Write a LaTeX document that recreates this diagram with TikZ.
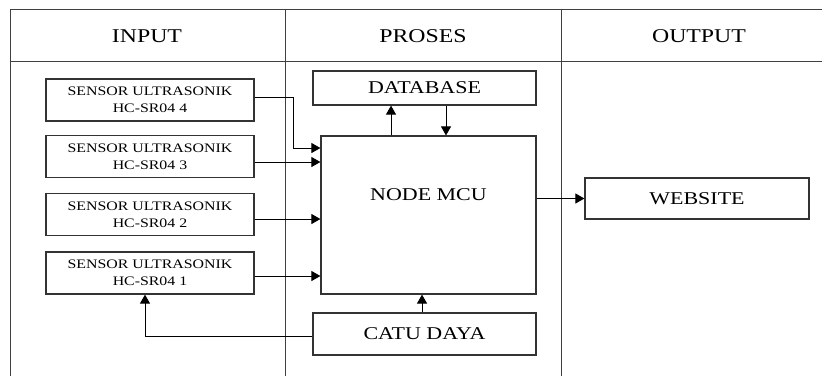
\documentclass[tikz,border=0pt]{standalone}
\usepackage{fontspec}
\setmainfont{Liberation Serif}[FakeStretch=1.22]
\usetikzlibrary{arrows.meta,positioning,calc}

\tikzset{
  blok/.style={draw=black!80, line width=1.2pt, inner sep=0pt, align=center},
  sensor/.style={blok, minimum width=208pt, minimum height=42pt,
    font=\fontsize{13}{17}\selectfont},
  proses/.style={blok, font=\fontsize{18}{20}\selectfont},
  judul/.style={font=\fontsize{19.5}{21}\selectfont},
  panah/.style={-{Triangle[length=9pt,width=10pt]}, line width=1pt},
  garis/.style={draw=black!75, line width=0.8pt},
}

\begin{document}
\begin{tikzpicture}[x=1pt,y=-1pt]
\useasboundingbox (0,0) rectangle (822,376);
% --- TABEL ---
\draw[garis] (822,9) -- (10,9) -- (10,376);
\draw[garis] (10,61) -- (822,61);
\draw[garis] (285,9) -- (285,376);
\draw[garis] (561,9) -- (561,376);
\node[judul] (input) at (147,36) {INPUT};
\node[judul] (proses) at (423,36) {PROSES};
\node[judul] (output) at (699,36) {OUTPUT};

% --- INPUT ---
\node[sensor] (s4) at (150,100) {SENSOR ULTRASONIK\\HC-SR04 4};
\node[sensor] (s3) at (150,156.5) {SENSOR ULTRASONIK\\HC-SR04 3};
\node[sensor] (s2) at (150,214.5) {SENSOR ULTRASONIK\\HC-SR04 2};
\node[sensor] (s1) at (150,273) {SENSOR ULTRASONIK\\HC-SR04 1};

% --- PROSES ---
\node[proses, minimum width=223pt, minimum height=34pt] (db) at (424.5,88) {DATABASE};
\node[blok, minimum width=215pt, minimum height=158pt] (mcu) at (428.5,215) {};
\node[proses, draw=none] (mcutext) at ($(mcu.north)+(0,59)$) {NODE MCU};
\node[proses, minimum width=223pt, minimum height=42pt] (catu) at (424.5,334) {CATU DAYA};

% --- OUTPUT ---
\node[proses, minimum width=224pt, minimum height=41pt] (web) at (697,198.5) {WEBSITE};

% --- PANAH ---
\coordinate (belok) at (293,148);
\draw[panah] ([yshift=3pt]s4.east) -| (belok) -- (belok -| mcu.west);
\draw[panah] ([yshift=-5.5pt]s3.east) -- ([yshift=-5.5pt]s3.east -| mcu.west);
\draw[panah] ([yshift=-4.5pt]s2.east) -- ([yshift=-4.5pt]s2.east -| mcu.west);
\draw[panah] ([yshift=-3pt]s1.east) -- ([yshift=-3pt]s1.east -| mcu.west);
\draw[panah] ([xshift=-37.5pt]mcu.north) -- ([xshift=-37.5pt]mcu.north |- db.south);
\draw[panah] ([xshift=17.5pt]mcu.north |- db.south) -- ([xshift=17.5pt]mcu.north);
\draw[panah] ([xshift=-6.5pt]mcu.south |- catu.north) -- ([xshift=-6.5pt]mcu.south);
\draw[panah] ([yshift=-2pt]catu.west) -| ([xshift=-5pt]s1.south);
\draw[panah] (web.west -| mcu.east) -- (web.west);
\end{tikzpicture}
\end{document}
